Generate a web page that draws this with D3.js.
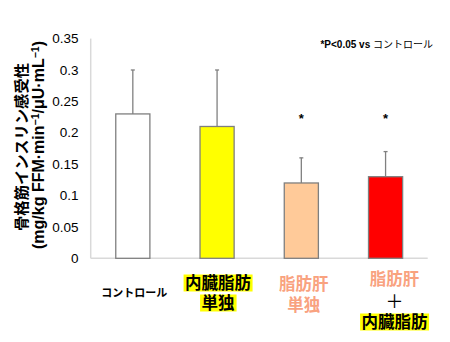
<!DOCTYPE html>
<html><head><meta charset="utf-8">
<script src="https://cdn.jsdelivr.net/npm/d3@7"></script>
<style>body{margin:0;background:#fff}svg{display:block}</style>
</head><body>
<svg id="c" width="450" height="342"></svg>
<script>
const categories = ["コントロール", "内臓脂肪単独", "脂肪肝単独", "脂肪肝＋内臓脂肪"];
const values = [0.23, 0.21, 0.12, 0.13];
const errors = [0.07, 0.09, 0.04, 0.04];
const significant = [false, false, true, true];
const barColors = ["#ffffff", "#ffff00", "#ffca99", "#ff0000"];
const yTicks = [0, 0.05, 0.1, 0.15, 0.2, 0.25, 0.3, 0.35];
const labelLines = [
  [{t: "コントロール", k: "plain"}],
  [{t: "内臓脂肪", k: "hl"}, {t: "単独", k: "hl"}],
  [{t: "脂肪肝", k: "salmon"}, {t: "単独", k: "salmon"}],
  [{t: "脂肪肝", k: "salmon"}, {t: "＋", k: "plus"}, {t: "内臓脂肪", k: "hl"}]
];

const svg = d3.select("#c");
const x0 = 90.7, x1 = 427.7, yB = 258.3, yT = 38.6;
const x = d3.scaleBand().domain(categories).range([x0, x1]).padding(0);
const y = d3.scaleLinear().domain([0, 0.35]).range([yB, yT]);
const bw = x.bandwidth() * 0.405;
const cx = c => x(c) + x.bandwidth() / 2;

// axes lines
svg.append("line").attr("x1", x0).attr("x2", x0).attr("y1", yT).attr("y2", yB)
  .attr("stroke", "#d9d9d9").attr("stroke-width", 1.5);
svg.append("line").attr("x1", x0).attr("x2", x1).attr("y1", yB).attr("y2", yB)
  .attr("stroke", "#d9d9d9").attr("stroke-width", 1.5);

// y tick labels
svg.append("g").selectAll("text").data(yTicks).join("text")
  .attr("x", 78.5).attr("y", d => y(d)).attr("dy", "0.35em")
  .attr("text-anchor", "end")
  .attr("font-family", "Liberation Sans, Arial, sans-serif").attr("font-size", 13.5)
  .attr("fill", "#000").text(d => d === 0 ? "0" : String(d));

// error bars
const eb = svg.append("g").attr("stroke", "#808080").attr("stroke-width", 1.3);
categories.forEach((c, i) => {
  eb.append("line").attr("x1", cx(c)).attr("x2", cx(c))
    .attr("y1", y(values[i])).attr("y2", y(values[i] + errors[i]));
  eb.append("line").attr("x1", cx(c) - 2).attr("x2", cx(c) + 2)
    .attr("y1", y(values[i] + errors[i])).attr("y2", y(values[i] + errors[i]));
});

// bars
svg.append("g").selectAll("rect").data(categories).join("rect")
  .attr("x", c => cx(c) - bw / 2).attr("width", bw)
  .attr("y", (c, i) => y(values[i])).attr("height", (c, i) => yB - y(values[i]))
  .attr("fill", (c, i) => barColors[i]).attr("stroke", "#7f7f7f").attr("stroke-width", 1.3);

// significance stars
svg.append("g").selectAll("text").data(categories.filter((c, i) => significant[i])).join("text")
  .attr("x", c => cx(c)).attr("y", 123).attr("text-anchor", "middle")
  .attr("font-family", "Liberation Sans, Arial, sans-serif").attr("font-size", 13).attr("font-weight", "bold")
  .text("*");

// y-axis title
const yt = svg.append("g").attr("transform", "translate(21,147) rotate(-90)");
yt.append("text").attr("text-anchor", "middle").attr("dy", "0.36em")
  .attr("font-family", "Noto Sans CJK JP, sans-serif").attr("font-size", 15.3).attr("font-weight", "bold")
  .text("骨格筋インスリン感受性");
const yt2 = svg.append("g").attr("transform", "translate(38,145) rotate(-90)");
const t2 = yt2.append("text").attr("text-anchor", "middle").attr("dy", "0.36em")
  .attr("font-family", "Liberation Sans, Arial, sans-serif").attr("font-size", 16).attr("font-weight", "bold");
t2.append("tspan").text("(mg/kg FFM·min");
t2.append("tspan").attr("font-size", 10.5).attr("dy", "-0.5em").text("−1");
t2.append("tspan").attr("dy", "0.33em").text("/μU·mL");
t2.append("tspan").attr("font-size", 10.5).attr("dy", "-0.5em").text("−1");
t2.append("tspan").attr("dy", "0.33em").text(")");

// legend
const lg = svg.append("text").attr("x", 433).attr("y", 48).attr("text-anchor", "end")
  .attr("font-size", 10);
lg.append("tspan").attr("font-family", "Liberation Sans, Arial, sans-serif").attr("font-weight", "bold").text("*P<0.05 vs ");
lg.append("tspan").attr("font-family", "Noto Sans CJK JP, sans-serif").text("コントロール");

// x labels
const lineY = [[293], [283, 303], [284, 305], [279, 302, 322]];
const dxOff = [1.5, 1, 2.5, 9];
const xl = svg.append("g");
categories.forEach((c, i) => {
  labelLines[i].forEach((ln, j) => {
    const g = xl.append("g");
    const t = g.append("text").attr("x", cx(c) + dxOff[i]).attr("y", lineY[i][j])
      .attr("dy", "0.36em").attr("text-anchor", "middle")
      .attr("font-family", "Noto Sans CJK JP, sans-serif")
      .attr("font-weight", ln.k === "plus" ? "normal" : "bold")
      .attr("font-size", ln.k === "plain" ? 11 : (ln.k === "plus" ? 18 : 16.5))
      .attr("fill", ln.k === "salmon" ? "#f9a27f" : "#000")
      .text(ln.t);
    if (ln.k === "hl") {
      const b = t.node().getBBox();
      g.insert("rect", "text").attr("x", b.x - 1.5).attr("width", b.width + 3)
        .attr("y", lineY[i][j] - 8.5).attr("height", 17).attr("fill", "#ffff00");
    }
  });
});
</script>
</body></html>
